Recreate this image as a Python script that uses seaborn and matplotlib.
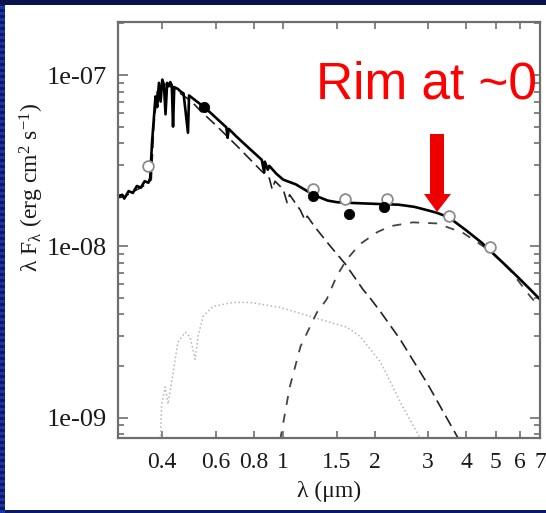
import matplotlib
matplotlib.use("Agg")
import matplotlib.pyplot as plt
import matplotlib.ticker as mticker
from matplotlib.patches import Rectangle, Polygon
import pandas as pd
import seaborn as sns

# ---- total model SED (star + inner rim), wavelength in micron, lambda F_lambda in erg cm^-2 s^-1
total_wl = [0.286, 0.295, 0.30, 0.31, 0.32, 0.33, 0.34, 0.35, 0.36, 0.365, 0.37, 0.375, 0.38,
            0.385, 0.39, 0.395, 0.40, 0.405, 0.41, 0.415, 0.42, 0.425, 0.43, 0.434, 0.438,
            0.45, 0.46, 0.47, 0.486, 0.49, 0.52, 0.55, 0.60, 0.65, 0.656, 0.662, 0.70, 0.75,
            0.80, 0.85, 0.866, 0.87, 0.89, 0.90, 0.95, 1.0, 1.1, 1.2, 1.25, 1.3, 1.4, 1.5, 1.7,
            2.0, 2.4, 2.7, 3.0, 3.2, 3.5, 4.0, 4.5, 5.0, 5.5, 6.0, 6.5, 7.0]
total_flux = [1.95e-8, 2.0e-8, 1.9e-8, 2.1e-8, 2.05e-8, 2.25e-8, 2.2e-8, 2.4e-8, 2.35e-8, 2.5e-8,
              4.0e-8, 5.5e-8, 7.5e-8, 6.5e-8, 9.0e-8, 7.0e-8, 9.4e-8, 8.8e-8, 5.9e-8, 9.0e-8,
              8.6e-8, 9.1e-8, 8.7e-8, 5.0e-8, 8.5e-8, 8.3e-8, 8.0e-8, 7.8e-8, 4.6e-8, 7.6e-8,
              7.0e-8, 6.5e-8, 5.64e-8, 4.95e-8, 4.3e-8, 4.85e-8, 4.39e-8, 3.92e-8, 3.53e-8,
              3.2e-8, 2.7e-8, 3.12e-8, 2.8e-8, 2.95e-8, 2.65e-8, 2.45e-8, 2.3e-8, 2.1e-8,
              2.03e-8, 1.95e-8, 1.85e-8, 1.81e-8, 1.79e-8, 1.77e-8, 1.75e-8, 1.70e-8, 1.62e-8,
              1.57e-8, 1.48e-8, 1.24e-8, 1.05e-8, 8.8e-9, 7.5e-9, 6.45e-9, 5.6e-9, 4.9e-9]

# ---- stellar photosphere
star_wl = [0.286, 0.30, 0.32, 0.34, 0.36, 0.368, 0.375, 0.385, 0.40, 0.42, 0.45, 0.50, 0.533,
           0.60, 0.705, 0.84, 0.90, 0.92, 0.94, 1.0, 1.03, 1.05, 1.14, 1.18, 1.2, 1.27, 1.43,
           1.60, 1.83, 1.93, 2.10, 2.43, 3.0, 3.73, 4.0]
star_flux = [1.92e-8, 1.95e-8, 2.08e-8, 2.2e-8, 2.35e-8, 2.45e-8, 5.0e-8, 8.0e-8, 9.0e-8,
             8.7e-8, 8.0e-8, 7.0e-8, 6.2e-8, 5.1e-8, 3.85e-8, 2.8e-8, 2.5e-8, 2.15e-8, 2.4e-8,
             2.15e-8, 1.8e-8, 2.0e-8, 1.62e-8, 1.42e-8, 1.5e-8, 1.3e-8, 1.0e-8, 7.9e-9,
             5.6e-9, 5.0e-9, 4.1e-9, 2.85e-9, 1.55e-9, 7.8e-10, 6.2e-10]

# ---- puffed-up inner rim emission
rim_wl = [0.95, 0.98, 1.05, 1.14, 1.29, 1.39, 1.50, 1.62, 1.79, 2.04, 2.25, 2.67, 3.21, 3.9,
          4.8, 5.6, 6.5, 7.0]
rim_flux = [5.8e-10, 7.6e-10, 1.5e-9, 2.6e-9, 4.1e-9, 4.9e-9, 6.7e-9, 8.4e-9, 1.03e-8,
            1.21e-8, 1.31e-8, 1.38e-8, 1.36e-8, 1.2e-8, 9.4e-9, 7.2e-9, 5.1e-9, 4.4e-9]

# ---- scattered light component
scat_wl = [0.394, 0.398, 0.403, 0.409, 0.418, 0.431, 0.45, 0.476, 0.494, 0.513, 0.525, 0.545,
           0.589, 0.685, 0.78, 0.977, 1.25, 1.62, 1.79, 2.09, 2.43, 2.82, 2.9]
scat_flux = [7.0e-10, 1.2e-9, 1.33e-9, 1.51e-9, 1.2e-9, 1.68e-9, 2.75e-9, 3.15e-9, 2.95e-9,
             2.19e-9, 3.0e-9, 3.9e-9, 4.47e-9, 4.7e-9, 4.7e-9, 4.4e-9, 3.86e-9, 3.37e-9,
             2.98e-9, 2.11e-9, 1.23e-9, 7.6e-10, 6.8e-10]

# ---- photometry
phot_open_wl = [0.36, 1.25, 1.6, 2.2, 3.5, 4.8]
phot_open_flux = [2.93e-8, 2.15e-8, 1.9e-8, 1.88e-8, 1.50e-8, 9.9e-9]
phot_filled_wl = [0.55, 1.25, 1.65, 2.15]
phot_filled_flux = [6.55e-8, 1.96e-8, 1.54e-8, 1.69e-8]

x_ticks = [0.4, 0.6, 0.8, 1, 1.5, 2, 3, 4, 5, 6, 7]
x_labels = ["0.4", "0.6", "0.8", "1", "1.5", "2", "3", "4", "5", "6", "7"]
y_ticks = [1e-9, 1e-8, 1e-7]
y_labels = ["1e-09", "1e-08", "1e-07"]
annotation = "Rim at ~0"

sns.set_theme(style="ticks")
plt.rcParams["font.family"] = ["Liberation Serif", "DejaVu Serif"]
plt.rcParams["mathtext.fontset"] = "custom"
plt.rcParams["mathtext.rm"] = "Liberation Serif"
plt.rcParams["mathtext.it"] = "Liberation Serif"
plt.rcParams["mathtext.bf"] = "Liberation Serif"

W, H = 546, 513
fig = plt.figure(figsize=(W / 100, H / 100), dpi=100, facecolor="#0b1a66")


def fx(px):
    return px / W


def fy(py):
    return 1 - py / H


# slide frame: striped navy border and white panel, kept beneath the axes
for yy in range(0, H, 6):
    fig.patches.append(Rectangle((0, fy(yy + 3)), fx(5), 3 / H, transform=fig.transFigure,
                                 facecolor="#1c33a8", edgecolor="none", zorder=-2))
fig.patches.append(Rectangle((0, fy(5)), 1, 5 / H, transform=fig.transFigure,
                             facecolor="#0a1250", edgecolor="none", zorder=-2))
fig.patches.append(Rectangle((fx(5), fy(510)), fx(541), 505 / H, transform=fig.transFigure,
                             facecolor="white", edgecolor="none", zorder=-1))

ax = fig.add_axes([fx(118), fy(438), fx(540 - 118), (438 - 22) / H])
ax.set_facecolor("white")

sns.lineplot(data=pd.DataFrame({"wl": scat_wl, "f": scat_flux}), x="wl", y="f", ax=ax,
             estimator=None, sort=False, color="#b5b5b5", lw=1.1, ls=":")
sns.lineplot(data=pd.DataFrame({"wl": star_wl, "f": star_flux}), x="wl", y="f", ax=ax,
             estimator=None, sort=False, color="#222222", lw=1.2, ls=(0, (7, 3.5)))
sns.lineplot(data=pd.DataFrame({"wl": rim_wl, "f": rim_flux}), x="wl", y="f", ax=ax,
             estimator=None, sort=False, color="#444444", lw=1.3, ls=(0, (5, 5)))
sns.lineplot(data=pd.DataFrame({"wl": total_wl, "f": total_flux}), x="wl", y="f", ax=ax,
             estimator=None, sort=False, color="black", lw=1.9)
sns.scatterplot(x=phot_open_wl, y=phot_open_flux, ax=ax, s=60, facecolor="white",
                edgecolor="#8c8c8c", linewidth=1.3, zorder=4)
sns.scatterplot(x=phot_filled_wl, y=phot_filled_flux, ax=ax, s=55, color="black",
                edgecolor="black", zorder=5)

ax.set_xscale("log")
ax.set_yscale("log")
ax.set_xlim(0.286, 7.0)
ax.set_ylim(7.6e-10, 2.04e-7)

ax.xaxis.set_major_locator(mticker.FixedLocator(x_ticks))
ax.xaxis.set_major_formatter(mticker.FixedFormatter(x_labels))
ax.xaxis.set_minor_locator(mticker.NullLocator())
ax.yaxis.set_major_locator(mticker.FixedLocator(y_ticks))
ax.yaxis.set_major_formatter(mticker.FixedFormatter(y_labels))
ax.yaxis.set_minor_locator(mticker.LogLocator(base=10, subs=range(2, 10)))
ax.yaxis.set_minor_formatter(mticker.NullFormatter())

ax.tick_params(axis="both", which="both", direction="in", top=True, right=True,
               colors="#6e6e6e", labelcolor="#1a1a1a", width=1.2)
ax.tick_params(axis="x", which="major", length=5, pad=10, labelsize=17)
ax.tick_params(axis="y", which="major", length=7, pad=8, labelsize=19)
ax.tick_params(axis="y", which="minor", length=4)
for sp in ax.spines.values():
    sp.set_color("#6e6e6e")
    sp.set_linewidth(1.6)

ax.set_xlabel("λ (μm)", fontsize=17, color="#1a1a1a", labelpad=6)
ax.set_ylabel(r"$\lambda$ F$_{\lambda}$ (erg cm$^{2}$ s$^{-1}$)", fontsize=17,
              color="#1a1a1a")
ax.yaxis.set_label_coords((46 - 118) / 422, (438 - 187) / 416)

# slide annotation and arrow
fig.text(fx(316), fy(99), annotation, color="#ff0000", fontsize=37,
         family="Liberation Sans", va="baseline", ha="left", zorder=10)
arrow = [(430, 134), (444, 134), (444, 194), (451, 194), (437, 212), (424, 194), (430, 194)]
fig.patches.append(Polygon([(fx(x), fy(y)) for x, y in arrow], closed=True,
                           transform=fig.transFigure, facecolor="#ee0000",
                           edgecolor="none", zorder=10))

fig.savefig("out.png", dpi=100, facecolor=fig.get_facecolor())
